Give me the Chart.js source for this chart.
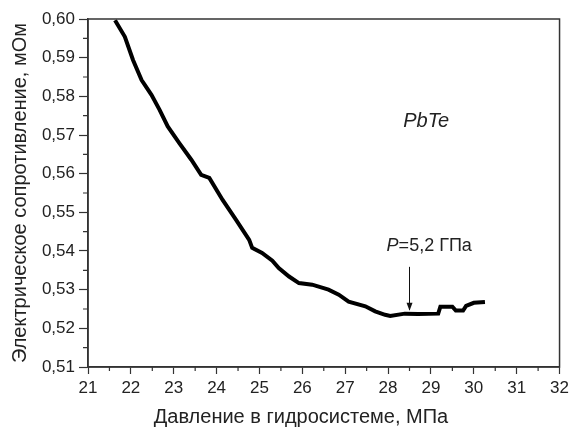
<!DOCTYPE html>
<html>
<head>
<meta charset="utf-8">
<script src="https://cdn.jsdelivr.net/npm/chart.js@4.4.0/dist/chart.umd.min.js"></script>
<style>
  body { margin: 0; background: #fff; }
  #chart { display: block; }
</style>
</head>
<body>
<canvas id="chart" width="573" height="428"></canvas>
<script>
// data
const pressure = [21.63, 21.86, 22.05, 22.25, 22.48, 22.67, 22.86, 23.13, 23.41, 23.64, 23.83, 24.14, 24.45, 24.76, 24.83, 25.06, 25.30, 25.45, 25.69, 25.92, 26.23, 26.61, 26.85, 27.08, 27.47, 27.70, 27.93, 28.05, 28.39, 28.70, 29.17, 29.22, 29.50, 29.58, 29.75, 29.82, 30.00, 30.26];
const resistance = [0.5997, 0.5954, 0.5894, 0.5842, 0.5804, 0.5765, 0.5722, 0.5679, 0.5636, 0.5597, 0.5589, 0.5532, 0.5481, 0.5429, 0.5408, 0.5395, 0.5375, 0.5356, 0.5334, 0.5317, 0.5313, 0.5300, 0.5287, 0.5269, 0.5257, 0.5244, 0.5235, 0.5232, 0.5238, 0.5237, 0.5238, 0.5256, 0.5256, 0.5246, 0.5246, 0.5258, 0.5266, 0.5268];

const xTitle = "Давление в гидросистеме, МПа";
const yTitle = "Электрическое сопротивление, мОм";
const sampleLabel = "PbTe";
const arrowLabel = "=5,2 ГПа";
const arrowAt = 28.5;

const points = pressure.map((p, i) => ({x: p, y: resistance[i]}));
const textColor = "#222";
const fontName = "'Liberation Sans', Arial, sans-serif";

// frame, minor ticks and labels inside the plot
const extras = {
  id: "extras",
  afterDraw(chart) {
    const ctx = chart.ctx;
    const a = chart.chartArea;
    const xs = chart.scales.x, ys = chart.scales.y;
    ctx.save();
    ctx.strokeStyle = "#333";
    ctx.lineWidth = 1.5;
    ctx.strokeRect(a.left, a.top, a.right - a.left, a.bottom - a.top);

    ctx.lineWidth = 1.2;
    ctx.beginPath();
    for (let v = 21.5; v < 32; v += 1) {
      const px = xs.getPixelForValue(v);
      ctx.moveTo(px, a.bottom);
      ctx.lineTo(px, a.bottom + 4);
    }
    for (let k = 0; k < 9; k++) {
      const py = ys.getPixelForValue(0.515 + k * 0.01);
      ctx.moveTo(a.left, py);
      ctx.lineTo(a.left - 5, py);
    }
    ctx.stroke();

    // x axis title (sits a little left of the plot centre in the original)
    ctx.fillStyle = textColor;
    ctx.textBaseline = "middle";
    ctx.textAlign = "center";
    ctx.font = "20px " + fontName;
    ctx.fillText(xTitle, 301, 417);

    ctx.font = "italic 20px " + fontName;
    ctx.fillText(sampleLabel, xs.getPixelForValue(28.89), ys.getPixelForValue(0.5734));

    // arrow annotation
    const ax = xs.getPixelForValue(arrowAt);
    const y0 = ys.getPixelForValue(0.5359);
    const y1 = ys.getPixelForValue(0.5248);
    ctx.strokeStyle = "#111";
    ctx.lineWidth = 1;
    ctx.beginPath();
    ctx.moveTo(ax, y0);
    ctx.lineTo(ax, y1);
    ctx.stroke();
    ctx.beginPath();
    ctx.moveTo(ax, y1 + 1);
    ctx.lineTo(ax - 3, y1 - 7);
    ctx.lineTo(ax + 3, y1 - 7);
    ctx.closePath();
    ctx.fillStyle = "#111";
    ctx.fill();

    ctx.fillStyle = textColor;
    ctx.textAlign = "left";
    const ly = ys.getPixelForValue(0.5413);
    ctx.font = "italic 18px " + fontName;
    const pw = ctx.measureText("P").width;
    ctx.font = "18px " + fontName;
    const rw = ctx.measureText(arrowLabel).width;
    const lx = xs.getPixelForValue(28.96) - (pw + rw) / 2;
    ctx.font = "italic 18px " + fontName;
    ctx.fillText("P", lx, ly);
    ctx.font = "18px " + fontName;
    ctx.fillText(arrowLabel, lx + pw, ly);
    ctx.restore();
  }
};

new Chart(document.getElementById("chart"), {
  type: "line",
  data: {
    datasets: [{
      data: points,
      borderColor: "#000",
      borderWidth: 4,
      pointRadius: 0,
      tension: 0,
      fill: false
    }]
  },
  options: {
    responsive: false,
    devicePixelRatio: 1,
    animation: false,
    layout: { padding: { top: 19, right: 11, left: 0, bottom: 0 } },
    plugins: { legend: { display: false }, tooltip: { enabled: false } },
    scales: {
      x: {
        type: "linear",
        min: 21,
        max: 32,
        afterFit: s => { s.height = 61; },
        ticks: {
          stepSize: 1,
          color: textColor,
          padding: 4,
          maxRotation: 0,
          font: { family: fontName, size: 17 }
        },
        grid: { drawOnChartArea: false, tickLength: 7, color: "#333", tickWidth: 1.2 },
        border: { color: "#333", width: 1.5 }
      },
      y: {
        min: 0.51,
        max: 0.60,
        afterFit: s => { s.width = 88; },
        ticks: {
          stepSize: 0.01,
          color: textColor,
          padding: 4,
          font: { family: fontName, size: 17 },
          callback: v => v.toFixed(2).replace(".", ",")
        },
        grid: { drawOnChartArea: false, tickLength: 9, color: "#333", tickWidth: 1.2 },
        border: { color: "#333", width: 1.5 },
        title: {
          display: true,
          text: yTitle,
          color: textColor,
          padding: { top: 8, bottom: 0 },
          font: { family: fontName, size: 20 }
        }
      }
    }
  },
  plugins: [extras]
});
</script>
</body>
</html>
